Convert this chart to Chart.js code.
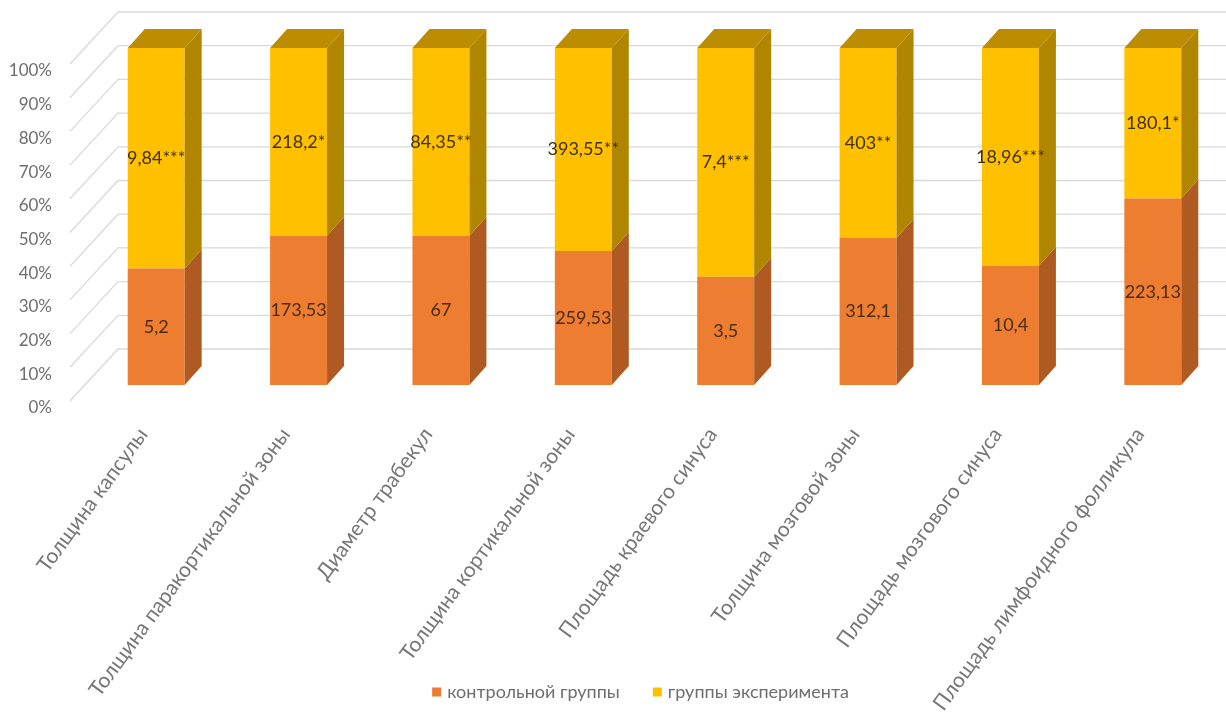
<!DOCTYPE html>
<html lang="ru">
<head>
<meta charset="utf-8">
<title>Морфометрические показатели</title>
<script src="https://cdn.jsdelivr.net/npm/chart.js@4.4.1/dist/chart.umd.min.js"></script>
<style>
  html, body { margin: 0; padding: 0; background: #fff; }
  #chart-container { width: 1226px; height: 715px; }
</style>
</head>
<body>
<div id="chart-container"><canvas id="chart"></canvas></div>
<script>
const categories = [
    "Толщина капсулы",
    "Толщина паракортикальной зоны",
    "Диаметр трабекул",
    "Толщина кортикальной зоны",
    "Площадь краевого синуса",
    "Толщина мозговой зоны",
    "Площадь мозгового синуса",
    "Площадь лимфоидного фолликула"
];
const seriesNames = ["контрольной группы", "группы эксперимента"];
const controlValues = [5.2, 173.53, 67, 259.53, 3.5, 312.1, 10.4, 223.13];
const experimentValues = [9.84, 218.2, 84.35, 393.55, 7.4, 403, 18.96, 180.1];
// significance marks printed after the experiment values
const experimentMarks = ["***", "*", "**", "**", "***", "**", "***", "*"];
const yMax = 100;
const yStep = 10;

// 100% stacked: each pair is shown as shares of its sum
const totals = controlValues.map((v, i) => v + experimentValues[i]);
const controlShare = controlValues.map((v, i) => v / totals[i] * 100);
const experimentShare = experimentValues.map((v, i) => v / totals[i] * 100);

const FONT = "Lato, 'Open Sans', sans-serif";
const frontColors = ["#ed7d31", "#ffc000"];
const sideColors = ["#ae5a22", "#b08600"];
const topColor = "#bc8d00";
const labelColors = ["#4a2a12", "#3f3108"];

function fmt(v){
    return String(v).replace(".", ",");
}

const bars3d = {
    id: "bars3d",
    beforeDatasetsDraw(chart){
        // back wall grid and the slanted lines of the side wall
        const ctx = chart.ctx;
        const yScale = chart.scales.y;
        const left = chart.chartArea.left;
        ctx.save();
        ctx.strokeStyle = "#d9d9d9";
        ctx.lineWidth = 1.3;
        ctx.beginPath();
        yScale.ticks.forEach(t => {
            const y = yScale.getPixelForValue(t.value);
            ctx.moveTo(left - 15, y + 16);
            ctx.lineTo(left + 33, y - 36);
            ctx.lineTo(chart.width, y - 36);
        });
        ctx.stroke();
        ctx.restore();
    },
    afterDatasetsDraw(chart){
        const ctx = chart.ctx;
        const dx = 17, dy = -19;
        const last = chart.data.datasets.length - 1;
        ctx.save();
        chart.data.datasets.forEach((ds, d) => {
            const meta = chart.getDatasetMeta(d);
            meta.data.forEach(bar => {
                const p = bar.getProps(["x", "y", "base", "width"], true);
                const l = p.x - p.width / 2;
                const r = p.x + p.width / 2;
                const top = Math.min(p.y, p.base);
                const bottom = Math.max(p.y, p.base);
                ctx.fillStyle = sideColors[d];
                ctx.beginPath();
                ctx.moveTo(r, top);
                ctx.lineTo(r + dx, top + dy);
                ctx.lineTo(r + dx, bottom + dy);
                ctx.lineTo(r, bottom);
                ctx.closePath();
                ctx.fill();
                if(d === last){
                    ctx.fillStyle = topColor;
                    ctx.beginPath();
                    ctx.moveTo(l, top);
                    ctx.lineTo(l + dx, top + dy);
                    ctx.lineTo(r + dx, top + dy);
                    ctx.lineTo(r, top);
                    ctx.closePath();
                    ctx.fill();
                }
            });
        });

        // value labels in the middle of each segment
        ctx.font = "18px " + FONT;
        ctx.textAlign = "center";
        ctx.textBaseline = "middle";
        const raw = [controlValues, experimentValues];
        chart.data.datasets.forEach((ds, d) => {
            const meta = chart.getDatasetMeta(d);
            meta.data.forEach((bar, i) => {
                const p = bar.getProps(["x", "y", "base"], true);
                let text = fmt(raw[d][i]);
                if(d === 1) text += experimentMarks[i];
                ctx.fillStyle = labelColors[d];
                ctx.fillText(text, p.x, (p.y + p.base) / 2);
            });
        });
        ctx.restore();
    },
    afterDraw(chart){
        // legend sits in the label area under the axis
        const ctx = chart.ctx;
        const area = chart.chartArea;
        ctx.save();
        ctx.font = "18px " + FONT;
        ctx.textBaseline = "middle";
        ctx.textAlign = "left";
        const box = 9, gapBox = 6, gapItem = 33;
        const items = chart.data.datasets.map(ds => ({
            text: ds.label,
            color: ds.backgroundColor,
            w: box + gapBox + ctx.measureText(ds.label).width
        }));
        const total = items.reduce((s, it) => s + it.w, 0) + gapItem * (items.length - 1);
        let x = (area.left + area.right) / 2 - 14 - total / 2;
        const y = 692;
        items.forEach(it => {
            ctx.fillStyle = it.color;
            ctx.fillRect(x, y - box / 2, box, box);
            ctx.fillStyle = "#6e6e6e";
            ctx.fillText(it.text, x + box + gapBox, y);
            x += it.w + gapItem;
        });
        ctx.restore();
    }
};

const ctx = document.getElementById("chart").getContext("2d");

new Chart(ctx, {
    type: "bar",
    data: {
        labels: categories,
        datasets: [{
            label: seriesNames[0],
            data: controlShare,
            backgroundColor: frontColors[0],
            borderWidth: 0
        },
        {
            label: seriesNames[1],
            data: experimentShare,
            backgroundColor: frontColors[1],
            borderWidth: 0
        }]
    },
    options: {
        responsive: true,
        maintainAspectRatio: false,
        animation: false,
        barPercentage: 0.4,
        categoryPercentage: 1,
        layout: {
            padding: { top: 48, right: 2, left: 0, bottom: 0 }
        },
        plugins: {
            legend: { display: false },
            tooltip: { enabled: false }
        },
        scales: {
            x: {
                stacked: true,
                grid: { display: false, drawTicks: false },
                border: { display: false },
                ticks: {
                    autoSkip: false,
                    minRotation: 54,
                    maxRotation: 54,
                    padding: 38,
                    labelOffset: -13,
                    color: "#767676",
                    font: { family: FONT, size: 21 }
                },
                afterFit(scale){ scale.height = 330; }
            },
            y: {
                stacked: true,
                min: 0,
                max: yMax,
                grid: { display: false, drawTicks: false },
                border: { display: false },
                ticks: {
                    stepSize: yStep,
                    padding: 33,
                    labelOffset: 23,
                    color: "#6e6e6e",
                    font: { family: FONT, size: 17 },
                    callback: v => v + "%"
                },
                afterFit(scale){ scale.width = 85; }
            }
        }
    },
    plugins: [bars3d]
});
</script>
</body>
</html>
